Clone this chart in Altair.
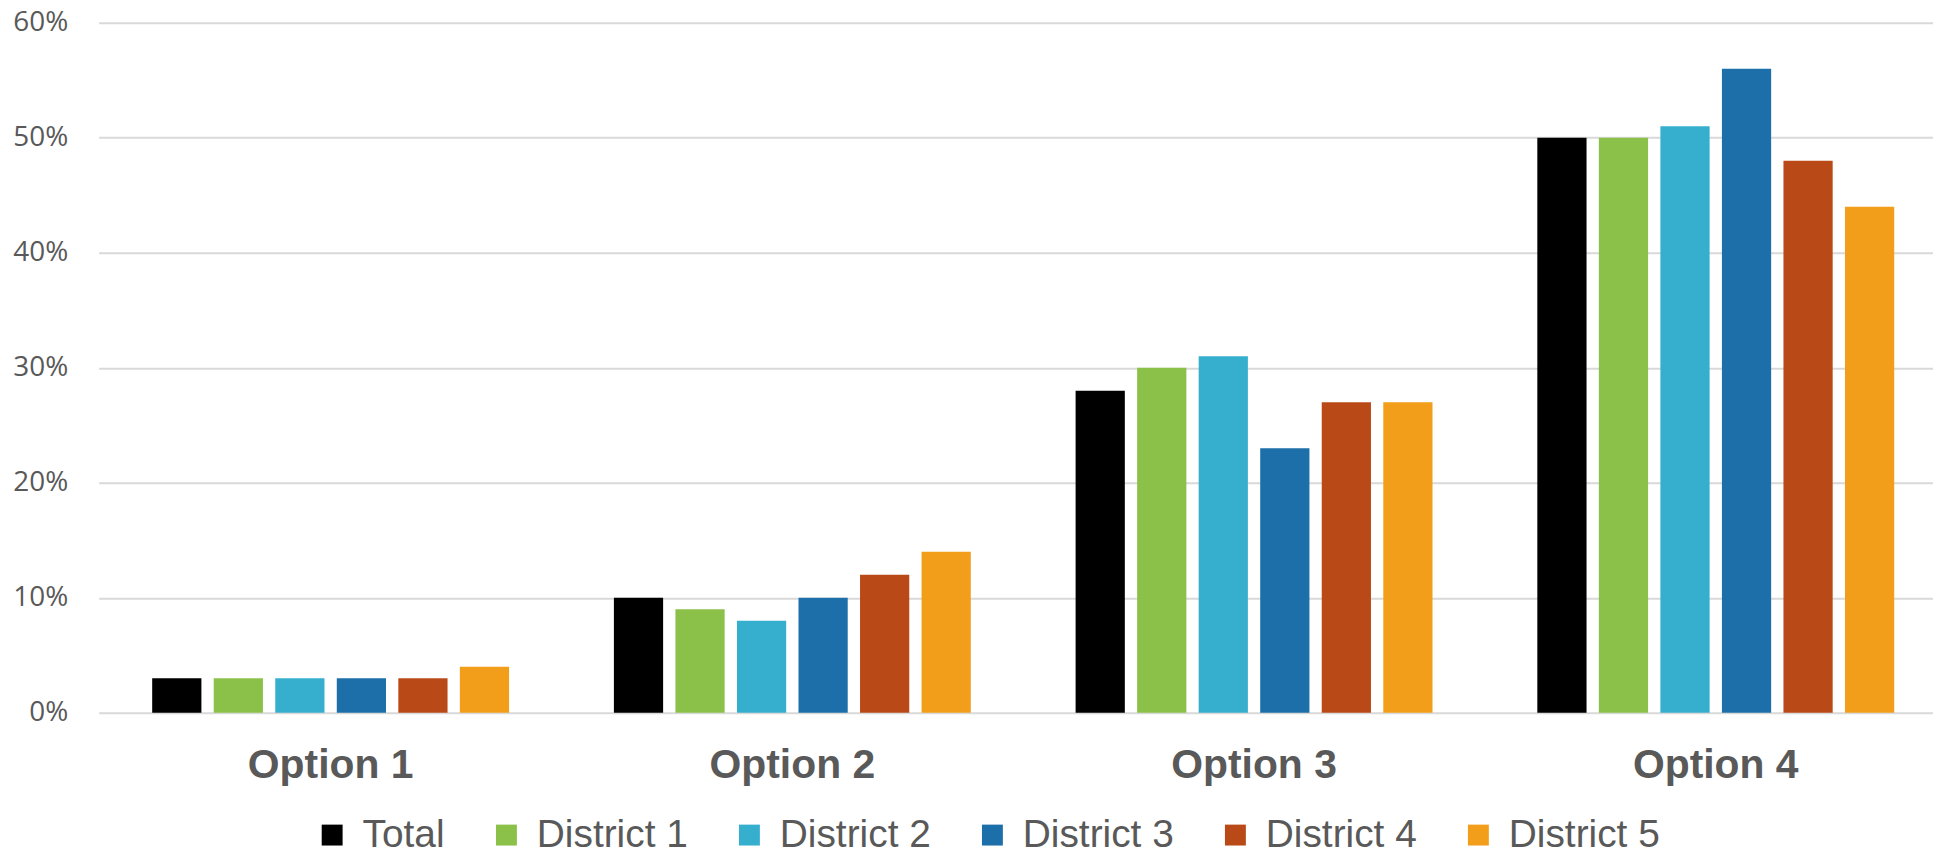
import altair as alt
import pandas as pd

categories = ["Option 1", "Option 2", "Option 3", "Option 4"]
series = ["Total", "District 1", "District 2", "District 3", "District 4", "District 5"]
colors = ["#000000", "#8BC148", "#36AFCE", "#1D6FAA", "#B94A18", "#F29E1B"]

total = [0.03, 0.10, 0.28, 0.50]
district1 = [0.03, 0.09, 0.30, 0.50]
district2 = [0.03, 0.08, 0.31, 0.51]
district3 = [0.03, 0.10, 0.23, 0.56]
district4 = [0.03, 0.12, 0.27, 0.48]
district5 = [0.04, 0.14, 0.27, 0.44]

y_ticks = [0, 0.1, 0.2, 0.3, 0.4, 0.5, 0.6]

values = [total, district1, district2, district3, district4, district5]
rows = []
for s, vals in zip(series, values):
    for c, v in zip(categories, vals):
        rows.append({"option": c, "series": s, "value": v})
df = pd.DataFrame(rows)

chart = alt.Chart(df).mark_bar().encode(
    x=alt.X(
        "option:N",
        sort=categories,
        scale=alt.Scale(paddingInner=0.227, paddingOuter=0.1, align=0.58),
        axis=alt.Axis(
            title=None,
            labelFont="Liberation Sans",
            labelFontWeight="bold",
            labelFontSize=41,
            labelColor="#595959",
            ticks=False,
            domain=False,
            labelPadding=33,
            labelAngle=0,
        ),
    ),
    xOffset=alt.XOffset(
        "series:N", sort=series, scale=alt.Scale(paddingInner=0.2, paddingOuter=0)
    ),
    y=alt.Y(
        "value:Q",
        scale=alt.Scale(domain=[0, 0.6]),
        axis=alt.Axis(
            title=None,
            format=".0%",
            values=y_ticks,
            labelFont="Open Sans",
            labelFontSize=28,
            labelColor="#595959",
            labelPadding=31,
            gridColor="#D9D9D9",
            gridWidth=2,
            domain=False,
            ticks=False,
        ),
    ),
    color=alt.Color(
        "series:N",
        sort=series,
        scale=alt.Scale(domain=series, range=colors),
        legend=alt.Legend(
            title=None,
            orient="none",
            legendX=215,
            legendY=796,
            direction="horizontal",
            columns=6,
            symbolType="square",
            symbolSize=441,
            symbolStrokeWidth=0,
            symbolOpacity=1,
            labelFont="Liberation Sans",
            labelFontSize=39,
            labelColor="#595959",
            labelOffset=11,
            labelLimit=400,
            columnPadding=42,
        ),
    ),
).properties(
    width=1842,
    height=693,
    autosize=alt.AutoSizeParams(type="none"),
    padding={"left": 91, "top": 13, "right": 0, "bottom": 142},
).configure_view(stroke=None)

chart.save("out.html", embed_options={"renderer": "svg", "actions": False})
